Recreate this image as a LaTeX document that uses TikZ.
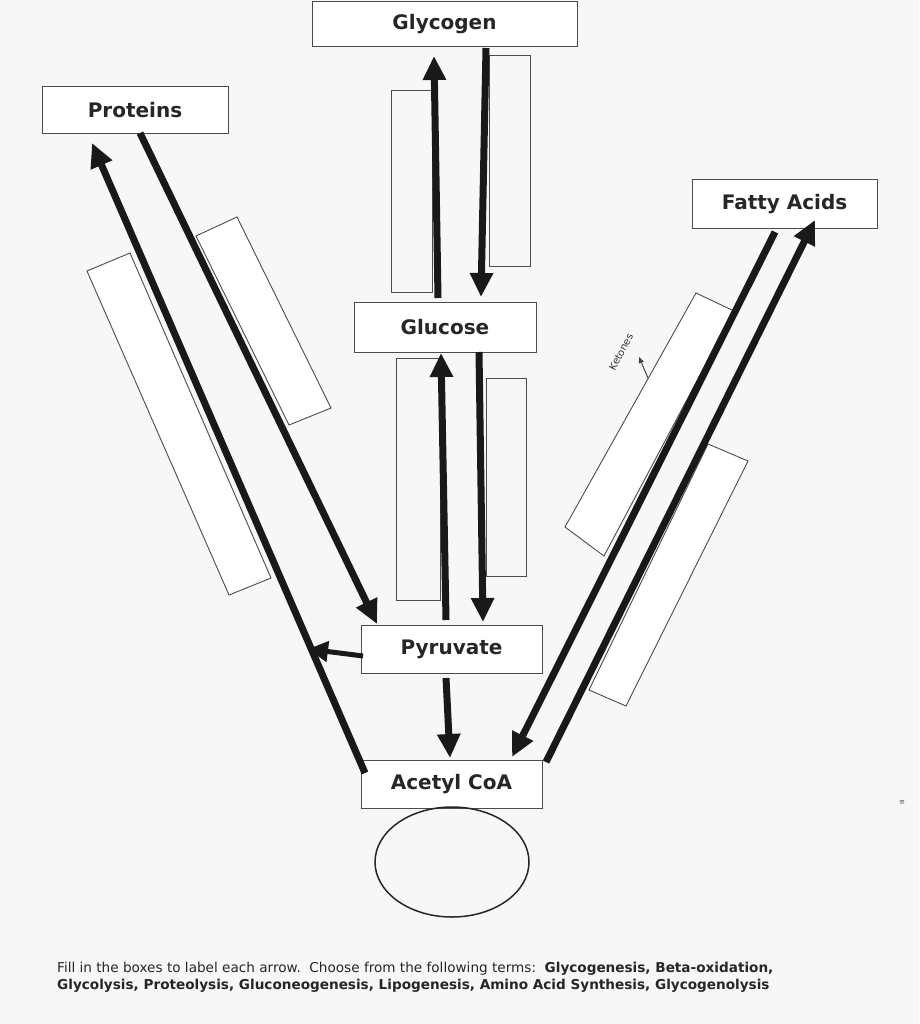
\documentclass[tikz,border=0pt]{standalone}
\usepackage{fontspec}
\setmainfont{DejaVu Sans}
\usetikzlibrary{arrows.meta,shapes.geometric}
\begin{document}
\begin{tikzpicture}[x=1pt,y=-1pt,
 lbl/.style={draw=black!70,line width=1pt,fill=white,inner sep=0pt,font=\fontsize{20}{22}\selectfont\bfseries,text=black!85},
 blank/.style={draw=black!70,line width=0.9pt},
 arr/.style={line width=7pt,-{Triangle[length=24pt,width=22pt]},black!90}]
\fill[black!3] (0,0) rectangle (919,1024);
\useasboundingbox (0,0) rectangle (919,1024);
% blank label boxes
\draw[blank] (391,90) rectangle (432,292);
\draw[blank] (489,55) rectangle (530,266);
\draw[blank] (396,358) rectangle (440,600);
\draw[blank] (486,378) rectangle (526,576);
\draw[blank,fill=white] (87,271) -- (130,253) -- (271,578) -- (229,595) -- cycle;
\draw[blank,fill=white] (196,236) -- (237,217) -- (331,408) -- (289,425) -- cycle;
\draw[blank,fill=white] (696,293) -- (734,311) -- (604,556) -- (565,527) -- cycle;
\draw[blank,fill=white] (708,444) -- (748,461) -- (626,706) -- (589,690) -- cycle;
% named boxes
\node[lbl,minimum width=265pt,minimum height=45pt] (gly) at (444.5,24.5) {Glycogen};
\node[lbl,minimum width=186pt,minimum height=47pt] (pro) at (135,110.5) {Proteins};
\node[lbl,minimum width=185pt,minimum height=49pt] (fat) at (784.5,204.5) {Fatty Acids};
\node[lbl,minimum width=182pt,minimum height=50pt] (glu) at (445,327) {Glucose};
\node[lbl,minimum width=181pt,minimum height=48pt] (pyr) at (451.5,649) {Pyruvate};
\node[lbl,minimum width=181pt,minimum height=48pt] (acc) at (451.5,784) {Acetyl CoA};
\node[draw=black!85,line width=1.5pt,ellipse,minimum width=154pt,minimum height=110pt] (cyc) at (452,862) {};
% coordinates for arrows
\coordinate (p1) at (365,773); \coordinate (p2) at (92,143);
\coordinate (p3) at (140,133); \coordinate (p4) at (377,624);
\coordinate (g1) at (438,298); \coordinate (g2) at (434,56);
\coordinate (g3) at (486,48); \coordinate (g4) at (481,297);
\coordinate (u1) at (446,620); \coordinate (u2) at (441,353);
\coordinate (u3) at (479,352); \coordinate (u4) at (483,622);
\coordinate (a1) at (446,678); \coordinate (a2) at (450,758);
\coordinate (l1) at (363,656); \coordinate (l2) at (308,649);
\coordinate (f1) at (775,232); \coordinate (f2) at (512,757);
\coordinate (f3) at (546,762); \coordinate (f4) at (815,220);
\draw[arr] (p1) -- (p2);
\draw[arr] (p3) -- (p4);
\draw[arr] (g1) -- (g2);
\draw[arr] (g3) -- (g4);
\draw[arr] (u1) -- (u2);
\draw[arr] (u3) -- (u4);
\draw[arr] (a1) -- (a2);
\draw[line width=5pt,-{Triangle[length=20pt,width=20pt]},black!90] (l1) -- (l2);
\draw[arr] (f1) -- (f2);
\draw[arr] (f3) -- (f4);
% ketones
\coordinate (k1) at (648,378); \coordinate (k2) at (639,357);
\draw[line width=1pt,black!75,-{Triangle[length=6pt,width=5pt]}] (k1) -- (k2);
\node[rotate=62,font=\fontsize{10}{11}\selectfont,text=black!80,inner sep=1pt] (ket) at (621,352) {Ketones};
\node[font=\fontsize{7}{8}\selectfont,text=black!70] (mk) at (902,803) {≡};
\node[anchor=north west,align=left,font=\fontsize{13.6}{17}\selectfont,text=black!85,inner sep=0pt] (txt) at (57,962)
 {Fill in the boxes to label each arrow.\ \ Choose from the following terms:\ \ \textbf{Glycogenesis, Beta-oxidation,}\\
 \textbf{Glycolysis, Proteolysis, Gluconeogenesis, Lipogenesis, Amino Acid Synthesis, Glycogenolysis}};
\end{tikzpicture}
\end{document}
